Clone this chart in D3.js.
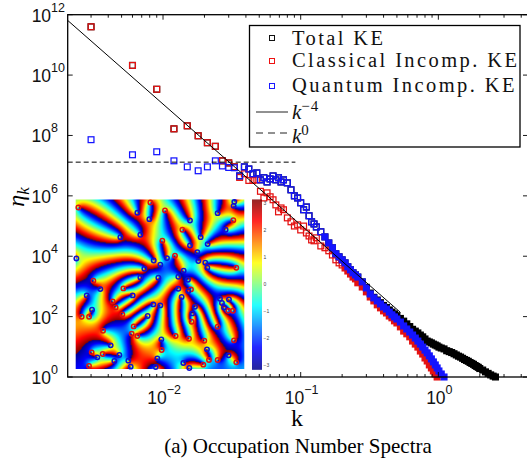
<!DOCTYPE html>
<html lang="en">

<head>
    <meta charset="UTF-8">
    <title>Occupation Number Spectra</title>
    <style>
        * {
            margin: 0;
            padding: 0;
        }

        body {
            background: #fff;
            overflow: hidden;
        }

        svg {
            display: block;
        }
    </style>
</head>

<body>
    <div id="chart"></div>
    <script src="https://cdn.jsdelivr.net/npm/d3@7"></script>
    <script>
        // wavenumbers, shared by the three spectra
        const kValues = [
            .003, .006, .009, .012, .015, .018, .021, .024, .027, .03, .033, .036, .039, .042, .045, .048, .051, .054, .057, .06,
            .063, .066, .069, .072, .075, .08, .085, .09, .095, .1, .105, .11, .115, .12, .125, .13, .14, .15, .16, .17,
            .18, .19, .2, .21, .22, .23, .24, .25, .26, .28, .3, .32, .34, .36, .38, .4, .42, .44, .46, .48,
            .5, .53, .56, .59, .62, .65, .68, .71, .74, .77, .8, .83, .86, .89, .92, .95, .98, 1.01, 1.05, 1.1,
            1.15, 1.2, 1.25, 1.3, 1.35, 1.4, 1.45, 1.5, 1.55, 1.6, 1.65, 1.7, 1.75, 1.8, 1.85, 1.9, 1.95, 2, 2.1, 2.2,
            2.3, 2.4, 2.5, 2.6
        ]

        // log10(n_k)
        const totalLogN = [
            11.6, 10.32, 9.53, 8.22, 8.32, 7.99, 7.76, 7.64, 7.16, 7.09, 6.96, 6.66, 6.96, 6.89, 6.73, 6.76, 6.53, 6.6, 6.46, 6.56,
            6.66, 6.53, 6.6, 6.46, 6.53, 6.43, 6.2, 6, 5.93, 5.77, 5.54, 5.63, 5.34, 5.14, 5.07, 4.97, 4.81, 4.64, 4.44, 4.28,
            4.08, 3.98, 3.88, 3.78, 3.65, 3.55, 3.45, 3.38, 3.31, 3.15, 2.97, 2.78, 2.64, 2.55, 2.46, 2.37, 2.3, 2.22, 2.15, 2.09,
            2.03, 1.94, 1.85, 1.76, 1.67, 1.58, 1.52, 1.46, 1.39, 1.33, 1.26, 1.19, 1.16, 1.13, 1.09, 1.06, 1.03, .99, .96, .93,
            .87, .84, .81, .77, .73, .69, .66, .62, .58, .55, .52, .48, .45, .42, .38, .35, .32, .28, .23, .17,
            .12, .07, .03, 0
        ]
        const classicalLogN = [
            11.6, 10.32, 9.53, 8.22, 8.32, 7.99, 7.76, 7.64, 7.16, 7.09, 6.96, 6.61, 6.73, 6.51, 6.51, 6.53, 6.15, 5.93, 6.1, 5.97,
            5.87, 5.7, 5.47, 5.6, 5.54, 5.27, 5.14, 5, 5.04, 4.87, 5, 4.77, 4.67, 4.54, 4.51, 4.61, 4.34, 4.28, 4.18, 4.04,
            3.88, 3.78, 3.71, 3.61, 3.51, 3.41, 3.31, 3.25, 3.12, 2.98, 2.82, 2.65, 2.52, 2.39, 2.29, 2.19, 2.12, 2.02, 1.96, 1.86,
            1.79, 1.66, 1.52, 1.43, 1.33, 1.19, 1.09, .99, .86, .76, .63, .53, .4, .3, .2, .1, 0
        ]
        const quantumLogN = [
            7.86, 7.36, 7.46, 7.16, 6.96, 6.83, 6.96, 7.16, 6.99, 6.94, 6.93, 6.66, 6.96, 6.89, 6.73, 6.76, 6.53, 6.6, 6.46, 6.56,
            6.66, 6.53, 6.6, 6.46, 6.53, 6.43, 6.2, 6, 5.93, 5.77, 5.54, 5.63, 5.34, 5.14, 5.07, 4.97, 4.81, 4.64, 4.44, 4.28,
            4.08, 3.98, 3.88, 3.78, 3.65, 3.55, 3.45, 3.38, 3.31, 3.15, 2.95, 2.75, 2.62, 2.52, 2.42, 2.32, 2.25, 2.15, 2.06, 1.99,
            1.92, 1.82, 1.69, 1.59, 1.49, 1.39, 1.29, 1.19, 1.09, .99, .89, .8, .7, .6, .5, .4, .3, .2, .1, 0
        ]

        // reference lines
        const slopeLineK = [.00203, .53]
        const slopeLineLogN = [11.81, 2.14]
        const flatLineK = [.00203, .0915]
        const flatLineLogN = [7.116, 7.116]

        const xMajorTicks = [.01, .1, 1]
        const xMinorTicks = [
            .003, .004, .005, .006, .007, .008, .009,
            .02, .03, .04, .05, .06, .07, .08, .09,
            .2, .3, .4, .5, .6, .7, .8, .9,
            2, 3, 4
        ]
        const yTicks = [0, 2, 4, 6, 8, 10, 12]
        const colorbarTicks = [3, 2, 1, 0, -1, -2, -3]

        // vortex positions in the inset, on its roughly 506 x 509 grid
        const plusVortexX = [8, 224, 268, 320, 473, 260, 298, 482, 53, 143, 346, 111, 120, 140, 18, 40, 458, 472, 348, 426, 174, 82, 168, 185, 300, 340, 386, 475, 258, 48, 81, 40, 400, 426, 482, 383]
        const plusVortexY = [24, 9, 33, 91, 62, 124, 169, 205, 244, 267, 270, 306, 324, 345, 352, 352, 334, 334, 367, 382, 381, 394, 403, 410, 410, 418, 424, 423, 452, 459, 464, 500, 482, 482, 489, 496]
        const minusVortexX = [476, 474, 185, 221, 426, 343, 450, 134, 194, 375, 396, 343, 365, 2, 234, 274, 254, 368, 389, 395, 206, 324, 308, 194, 248, 337, 74, 33, 171, 308, 338, 318, 433, 460, 439, 445, 233, 254, 358, 49, 350, 216, 257, 105, 394, 131, 65, 459, 245, 116, 158, 165, 240, 323, 341]
        const minusVortexY = [7, 19, 40, 59, 41, 63, 91, 113, 106, 113, 134, 138, 158, 177, 183, 176, 196, 185, 190, 205, 208, 214, 232, 234, 235, 241, 269, 288, 288, 268, 275, 293, 298, 300, 311, 324, 315, 318, 322, 331, 342, 350, 420, 438, 450, 467, 474, 468, 477, 485, 484, 502, 503, 491, 506]
        const phaseOffset = 6

        const jetStops = [-Math.PI, -2.356, -0.785, 0.785, 2.356, Math.PI]
        const jetColors = ['#00008f', '#0000ff', '#00ffff', '#ffff00', '#ff0000', '#800000']

        const width = 527
        const height = 466
        const margin = { top: 14.7, right: -1, bottom: 89, left: 67.7 }

        const svg = d3.select('#chart')
            .append('svg')
            .attr('width', width)
            .attr('height', height)
            .style('background', '#fff')

        const xScale = d3.scaleLog()
            .domain([.00203, 4.48])
            .range([margin.left, width - margin.right])
        const yScale = d3.scaleLog()
            .domain([1, 1e12])
            .range([height - margin.bottom, margin.top])

        const sans = '"Liberation Sans", Arial, sans-serif'
        const serif = '"Liberation Serif", "Times New Roman", serif'

        // spectra, black first so that the coloured squares sit on top
        // at high k the squares pile up into a solid band
        const drawSeries = (logN, color, solidFrom) => {
            const markerSize = 5.8
            svg.append('g')
                .selectAll('rect')
                .data(logN)
                .join('rect')
                .attr('x', (d, i) => xScale(kValues[i]) - markerSize / 2)
                .attr('y', d => yScale(10 ** d) - markerSize / 2)
                .attr('width', markerSize)
                .attr('height', markerSize)
                .attr('fill', (d, i) => kValues[i] > solidFrom ? color : 'none')
                .attr('stroke', color)
                .attr('stroke-width', 1.25)
        }
        drawSeries(totalLogN, '#000', .24)
        drawSeries(classicalLogN, '#e41111', .2)
        drawSeries(quantumLogN, '#1414ff', .14)

        const line = d3.line()
            .x(d => xScale(d[0]))
            .y(d => yScale(10 ** d[1]))

        svg.append('path')
            .attr('d', line(d3.zip(slopeLineK, slopeLineLogN)))
            .attr('fill', 'none')
            .attr('stroke', '#000')
            .attr('stroke-width', 1)
        svg.append('path')
            .attr('d', line(d3.zip(flatLineK, flatLineLogN)))
            .attr('fill', 'none')
            .attr('stroke', '#000')
            .attr('stroke-width', 1)
            .attr('stroke-dasharray', '5 3')

        // frame and ticks
        const axes = svg.append('g')
        const addTicks = (values, long, isX) => {
            values.forEach(v => {
                const len = long ? 5 : 3
                if (isX) {
                    const x = xScale(v)
                    axes.append('line').attr('x1', x).attr('x2', x)
                        .attr('y1', yScale.range()[0]).attr('y2', yScale.range()[0] - len)
                    axes.append('line').attr('x1', x).attr('x2', x)
                        .attr('y1', margin.top).attr('y2', margin.top + len)
                } else {
                    const y = yScale(10 ** v)
                    axes.append('line').attr('y1', y).attr('y2', y)
                        .attr('x1', margin.left).attr('x2', margin.left + len)
                    axes.append('line').attr('y1', y).attr('y2', y)
                        .attr('x1', width - margin.right).attr('x2', width - margin.right - len)
                }
            })
        }
        addTicks(xMajorTicks, true, true)
        addTicks(xMinorTicks, false, true)
        addTicks(yTicks, true, false)
        axes.selectAll('line').attr('stroke', '#000').attr('stroke-width', .9)

        axes.append('rect')
            .attr('x', margin.left)
            .attr('y', margin.top)
            .attr('width', width - margin.right - margin.left)
            .attr('height', height - margin.bottom - margin.top)
            .attr('fill', 'none')
            .attr('stroke', '#000')
            .attr('stroke-width', 1.3)

        // tick labels
        const powerLabel = (x, y, exponent, anchor) => {
            const t = svg.append('text')
                .attr('x', x)
                .attr('y', y)
                .attr('text-anchor', anchor)
                .style('font-family', sans)
                .style('font-size', '17.5px')
                .style('fill', '#111')
            t.append('tspan').text('10')
            t.append('tspan')
                .attr('dy', -10)
                .style('font-size', '12.5px')
                .text(String(exponent).replace('-', '\u2212'))
        }
        yTicks.forEach(v => powerLabel(v >= 10 ? 65 : 58, yScale(10 ** v) + 7, v, 'end'))
        xMajorTicks.forEach(v => powerLabel(xScale(v) + 1, 404, Math.round(Math.log10(v)), 'middle'))

        // axis titles
        svg.append('text')
            .attr('transform', 'translate(24, 197) rotate(-90)')
            .attr('text-anchor', 'middle')
            .style('font-family', serif)
            .style('font-style', 'italic')
            .style('font-size', '24px')
            .html('η<tspan dy="5" style="font-size:17px">k</tspan>')
        svg.append('text')
            .attr('x', 297)
            .attr('y', 426)
            .attr('text-anchor', 'middle')
            .style('font-family', serif)
            .style('font-size', '24px')
            .text('k')
        svg.append('text')
            .attr('x', 298)
            .attr('y', 453)
            .attr('text-anchor', 'middle')
            .style('font-family', serif)
            .style('font-size', '21px')
            .text('(a) Occupation Number Spectra')

        // legend
        const legend = svg.append('g')
        legend.append('rect')
            .attr('x', 249.5)
            .attr('y', 25.5)
            .attr('width', 270.5)
            .attr('height', 121.5)
            .attr('fill', '#fff')
            .attr('stroke', '#000')
            .attr('stroke-width', 1.3)

        const legendNames = ['Total KE', 'Classical Incomp. KE', 'Quantum Incomp. KE']
        const legendColors = ['#111', '#ee1111', '#1a1aff']
        const legendMarkerY = [38, 61, 86]
        const legendTextY = [45, 67, 92]
        legendNames.forEach((name, i) => {
            legend.append('rect')
                .attr('x', 269.5)
                .attr('y', legendMarkerY[i] - 2.5)
                .attr('width', 5)
                .attr('height', 5)
                .attr('fill', 'none')
                .attr('stroke', legendColors[i])
                .attr('stroke-width', 1)
            legend.append('text')
                .attr('x', 292)
                .attr('y', legendTextY[i])
                .style('font-family', serif)
                .style('font-size', '20.5px')
                .style('letter-spacing', '2.4px')
                .style('fill', '#111')
                .text(name)
        })
        legend.append('line')
            .attr('x1', 256).attr('x2', 288).attr('y1', 112).attr('y2', 112)
            .attr('stroke', '#222').attr('stroke-width', 1)
        legend.append('line')
            .attr('x1', 256).attr('x2', 288).attr('y1', 133).attr('y2', 133)
            .attr('stroke', '#222').attr('stroke-width', 1)
            .attr('stroke-dasharray', '7 5')
        const legendPower = (y, exponent) => {
            const t = legend.append('text')
                .attr('x', 292)
                .attr('y', y)
                .style('font-family', serif)
                .style('font-size', '21px')
                .style('fill', '#111')
            t.append('tspan').style('font-style', 'italic').text('k')
            t.append('tspan').attr('dy', -8).style('font-size', '15px').style('letter-spacing', '1px').text(exponent)
        }
        legendPower(119, '\u22124')
        legendPower(143, '0')

        // inset phase map: the winding of the vortices
        const inset = { x: 75.7, y: 199.5, w: 168.6, h: 169.5 }
        const gridX = d3.scaleLinear().domain([0, 506]).range([inset.x, inset.x + inset.w])
        const gridY = d3.scaleLinear().domain([0, 509]).range([inset.y, inset.y + inset.h])
        const jet = d3.scaleLinear().domain(jetStops).range(jetColors).clamp(true)

        const canvas = document.createElement('canvas')
        canvas.width = Math.round(inset.w)
        canvas.height = Math.round(inset.h)
        const ctx = canvas.getContext('2d')
        const pixels = ctx.createImageData(canvas.width, canvas.height)
        for (let row = 0; row < canvas.height; row++) {
            for (let col = 0; col < canvas.width; col++) {
                const gx = (col + .5) / canvas.width * 506
                const gy = (row + .5) / canvas.height * 509
                let phase = phaseOffset
                plusVortexX.forEach((vx, i) => { phase += Math.atan2(gy - plusVortexY[i], gx - vx) })
                minusVortexX.forEach((vx, i) => { phase -= Math.atan2(gy - minusVortexY[i], gx - vx) })
                phase = Math.atan2(Math.sin(phase), Math.cos(phase))
                const c = d3.rgb(jet(phase))
                const p = (row * canvas.width + col) * 4
                pixels.data[p] = c.r
                pixels.data[p + 1] = c.g
                pixels.data[p + 2] = c.b
                pixels.data[p + 3] = 255
            }
        }
        ctx.putImageData(pixels, 0, 0)
        svg.append('image')
            .attr('x', inset.x)
            .attr('y', inset.y)
            .attr('width', inset.w)
            .attr('height', inset.h)
            .attr('preserveAspectRatio', 'none')
            .attr('href', canvas.toDataURL())

        const drawVortices = (xs, ys, color) => {
            svg.append('g')
                .selectAll('circle')
                .data(xs)
                .join('circle')
                .attr('cx', d => gridX(d))
                .attr('cy', (d, i) => gridY(ys[i]))
                .attr('r', 2.2)
                .attr('fill', 'none')
                .attr('stroke', color)
                .attr('stroke-width', 1.5)
        }
        drawVortices(plusVortexX, plusVortexY, '#e01010')
        drawVortices(minusVortexX, minusVortexY, '#1010d0')

        // colorbar
        const barY = d3.scaleLinear().domain([-Math.PI, Math.PI]).range([inset.y + inset.h, inset.y])
        const barSteps = d3.range(inset.h)
        svg.append('g')
            .selectAll('rect')
            .data(barSteps)
            .join('rect')
            .attr('x', 252)
            .attr('y', d => inset.y + d)
            .attr('width', 10)
            .attr('height', 1.2)
            .attr('fill', d => jet(barY.invert(inset.y + d + .5)))
        svg.append('g')
            .selectAll('text')
            .data(colorbarTicks)
            .join('text')
            .attr('x', 263.5)
            .attr('y', d => barY(d) + 2)
            .style('font-family', sans)
            .style('font-size', '5px')
            .style('fill', '#444')
            .text(d => d < 0 ? '\u2212' + -d : d)
    </script>
</body>

</html>
